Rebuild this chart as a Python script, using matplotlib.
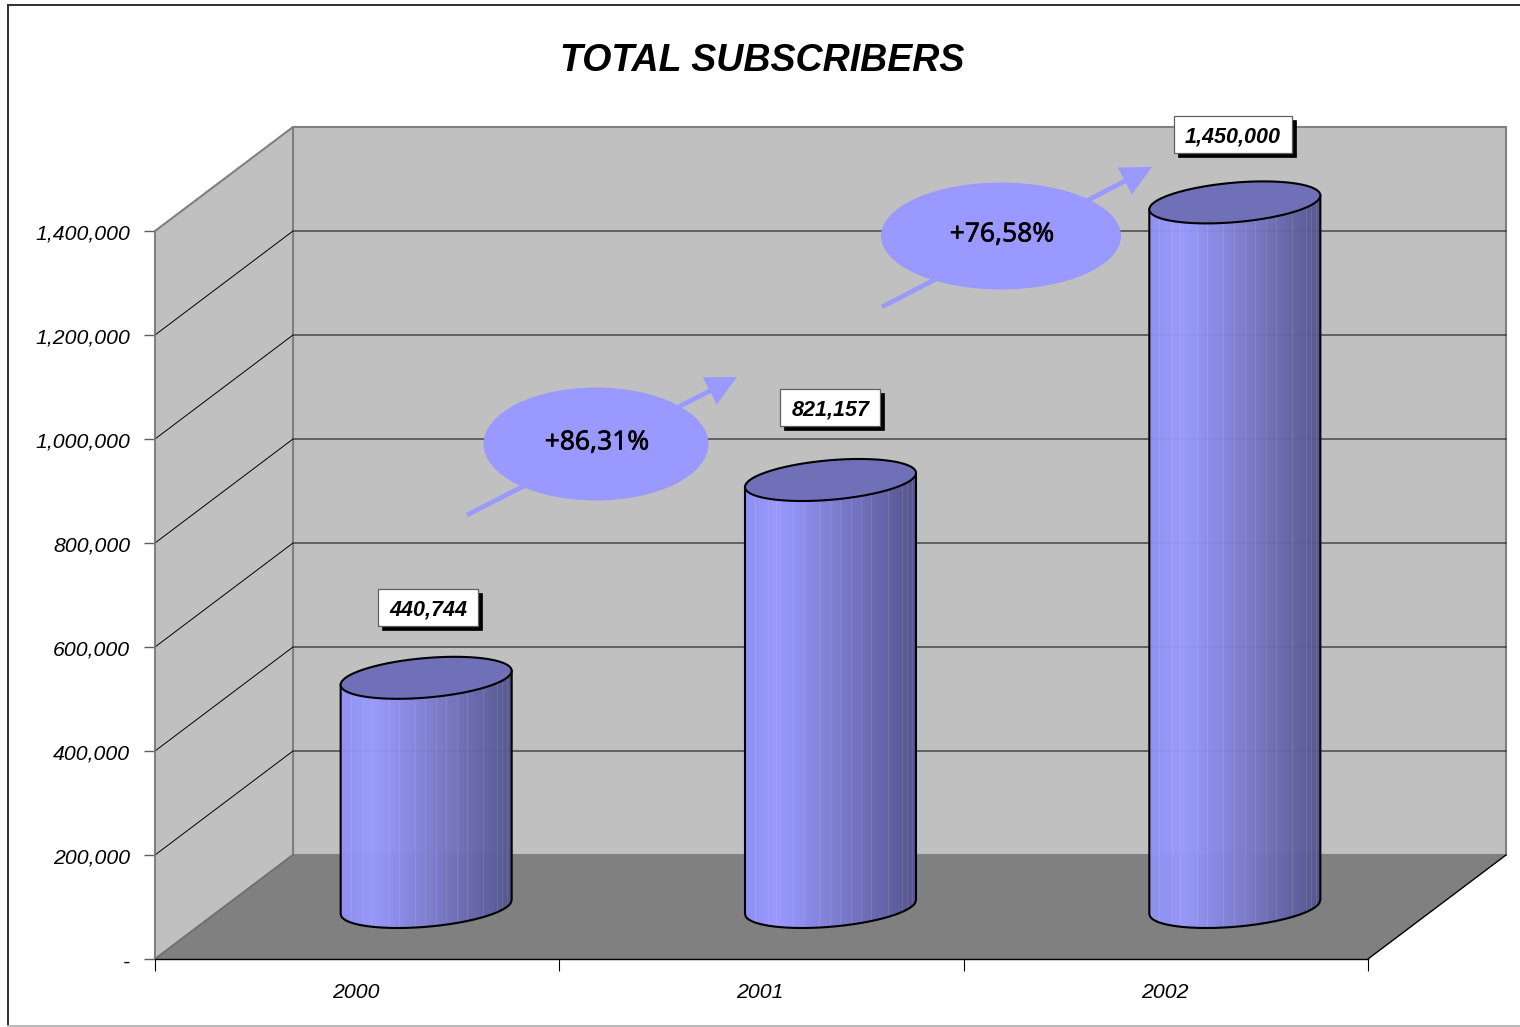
import numpy as np
import matplotlib
matplotlib.use("Agg")
import matplotlib.pyplot as plt
import matplotlib.patheffects as pe
from matplotlib.patches import Polygon, Ellipse, Rectangle, FancyArrowPatch
from matplotlib.lines import Line2D
from matplotlib.ticker import FuncFormatter, NullFormatter
from matplotlib.transforms import ScaledTranslation

years = ["2000", "2001", "2002"]
bar_values = [440744, 821157, 1355000]
bar_labels = ["440,744", "821,157", "1,450,000"]
growth_labels = ["+86,31%", "+76,58%"]
y_ticks = [0, 200000, 400000, 600000, 800000, 1000000, 1200000, 1400000]

W, H = 1520, 1027
X0, Y0 = 155.0, 959.0          # pixel position of the origin
SX = 404.33                    # pixels per category
SY = 728.0 / 1400000           # pixels per subscriber
DX = 138 / SX                  # depth offset of the back wall
DY = 104 / SY

def px(x):
    return (x - X0) / SX
def py(y):
    return (Y0 - y) / SY
def dpx(d):
    return d / SX
def dpy(d):
    return d / SY

plt.rcParams["font.family"] = ["Liberation Sans", "DejaVu Sans"]
fig = plt.figure(figsize=(W / 100, H / 100), dpi=100, facecolor="white")
ax = fig.add_axes([0, 0, 1, 1], facecolor="none")
ax.set_xlim(px(0), px(W))
ax.set_ylim(py(H), py(0))

WALL, FLOOR, EDGE = "#C0C0C0", "#808080", "#808080"
top = y_ticks[-1]
n = len(years)

# walls and floor
ax.add_patch(Polygon([(DX, DY), (n + DX, DY), (n + DX, top + DY), (DX, top + DY)],
                     fc=WALL, ec=EDGE, lw=1.5, zorder=1))
ax.add_patch(Polygon([(0, 0), (DX, DY), (DX, top + DY), (0, top)],
                     fc=WALL, ec=EDGE, lw=1.5, zorder=1))
ax.add_patch(Polygon([(0, 0), (n, 0), (n + DX, DY), (DX, DY)],
                     fc=FLOOR, ec="none", zorder=1.2))
ax.plot([n, n + DX], [0, DY], color="black", lw=1.0, zorder=1.3)
ax.plot([0, DX], [0, DY], color="#707070", lw=1.2, zorder=1.3)

# gridlines
for v in y_ticks[1:-1]:
    ax.plot([0, DX, n + DX], [v, v + DY, v + DY], color="black", lw=0.7, zorder=1.1)

# cylinders
A = 85.5 / SX
RISE = dpy(7.0)
B = dpy(19.8)
seams = [.058, .132, .179, .28, .34, .433, .495, .557, .617, .68, .738, .835, .917, .946, .975]
c_left, c_peak, c_right = np.array([0x90, 0x90, 0xF2]), np.array([0x99, 0x99, 0xFF]), np.array([0x55, 0x55, 0x8E])

def shade(f):
    if f < 0.2:
        return (c_left + (c_peak - c_left) * f / 0.2) / 255
    return (c_peak + (c_right - c_peak) * (f - 0.2) / 0.8) / 255

def front(cx, cy, f):
    u = 2 * np.asarray(f) - 1
    return cx + A * u, cy + RISE * u - B * np.sqrt(np.clip(1 - u ** 2, 0, 1))

label_dx = [2, 0, -2]
label_dy = [70, 72, 68]
for i, v in enumerate(bar_values):
    cx = i + 0.5 + DX / 2
    cy = DY / 2
    fs = np.linspace(0, 1, 172)
    for a, b in zip(fs[:-1], fs[1:]):
        ff = np.array([a, b])
        xb, yb = front(cx, cy, ff)
        xt, yt = front(cx, cy + v, ff)
        ax.add_patch(Polygon([(xb[0], yb[0]), (xb[1], yb[1]), (xt[1], yt[1]), (xt[0], yt[0])],
                             fc=shade((a + b) / 2), ec=shade((a + b) / 2), lw=0.4, zorder=3))
    for s in seams:
        xb, yb = front(cx, cy, s)
        xt, yt = front(cx, cy + v, s)
        ax.plot([xb, xt], [yb, yt], color="white", alpha=0.10, lw=0.7, zorder=3.1)
    # outline of the body
    fs = np.linspace(0, 1, 200)
    xb, yb = front(cx, cy, fs)
    ax.plot(np.r_[cx - A, xb, cx + A], np.r_[cy + v - RISE, yb, cy + v + RISE],
            color="black", lw=1.5, zorder=3.2, solid_joinstyle="round")
    # top cap
    t = np.linspace(0, 2 * np.pi, 240)
    xc = cx + A * np.cos(t)
    yc = cy + v + RISE * np.cos(t) + B * np.sin(t)
    ax.add_patch(Polygon(np.c_[xc, yc], closed=True, fc="#7070B8", ec="black", lw=1.5, zorder=3.3))
    # value label
    w = {7: 100, 9: 118}[len(bar_labels[i])]
    h = 37
    lx = cx + dpx(label_dx[i])
    ly = cy + v + dpy(label_dy[i])
    ax.add_patch(Rectangle((lx - dpx(w / 2) + dpx(4), ly - dpy(h / 2) - dpy(4)), dpx(w), dpy(h),
                           fc="black", ec="black", lw=0.5, zorder=4))
    ax.add_patch(Rectangle((lx - dpx(w / 2), ly - dpy(h / 2)), dpx(w), dpy(h),
                           fc="white", ec="#606060", lw=0.9, zorder=4.1))
    ax.text(lx, ly, bar_labels[i], ha="center", va="center_baseline", fontsize=15.5,
            fontweight="bold", fontstyle="italic", color="black", zorder=4.2)

# growth arrows and ellipses
BLUE = "#9999FF"
arrows = [((467, 515), (737, 377)), ((882, 307), (1152, 167))]
ells = [(596, 444, 225, 113), (1001, 236, 240, 107)]
for (p0, p1), (ex, ey, ew, eh), txt in zip(arrows, ells, growth_labels):
    ax.add_patch(FancyArrowPatch((px(p0[0]), py(p0[1])), (px(p1[0]), py(p1[1])),
                                 arrowstyle="-|>,head_length=1.1,head_width=0.55", mutation_scale=15,
                                 shrinkA=0, shrinkB=0, color=BLUE, lw=3.4, zorder=2.5,
                                 capstyle="butt", joinstyle="miter"))
    ax.add_patch(Ellipse((px(ex), py(ey)), dpx(ew), dpy(eh), fc=BLUE, ec="none", zorder=2.6))
    ax.text(px(ex + 1), py(ey - 5), txt, ha="center", va="center_baseline", fontsize=19,
            family=["Noto Sans", "DejaVu Sans"], color="black", zorder=2.7,
            path_effects=[pe.withStroke(linewidth=0.4, foreground="black")])

# axes, through the library's own ticks
for s in ("top", "right"):
    ax.spines[s].set_visible(False)
ax.spines["left"].set_position(("data", 0))
ax.spines["left"].set_bounds(0, top)
ax.spines["left"].set_color(EDGE)
ax.spines["left"].set_linewidth(1.2)
ax.spines["bottom"].set_position(("data", 0))
ax.spines["bottom"].set_bounds(0, n)
ax.spines["bottom"].set_color("black")
ax.spines["bottom"].set_linewidth(1.0)
ax.set_yticks(y_ticks)
ax.yaxis.set_major_formatter(FuncFormatter(lambda v, _: f"{int(v):,}" if v else "-"))
ax.tick_params(axis="y", length=7.9, width=1.0, color="#606060", pad=9.9,
               labelsize=15.3)
ax.set_xticks(range(n + 1))
ax.xaxis.set_major_formatter(NullFormatter())
ax.set_xticks([i + 0.497 for i in range(n)], labels=years, minor=True)
ax.tick_params(axis="x", which="major", length=8.6, width=0.8, color="black")
ax.tick_params(axis="x", which="minor", length=0, pad=17.6, labelsize=15.3)
down = ScaledTranslation(0, -1 / 100, fig.dpi_scale_trans)
for t in ax.get_yticklabels():
    t.set_fontstyle("italic")
    t.set_transform(t.get_transform() + down)
for t in ax.get_xticklabels(minor=True):
    t.set_fontstyle("italic")

ax.text(px(762), py(61), "TOTAL SUBSCRIBERS", ha="center", va="center", fontsize=27,
        fontweight="bold", fontstyle="italic", color="black")

# chart frame
tf = fig.transFigure
def fline(x0, y0, x1, y1, color, lw):
    fig.add_artist(Line2D([x0 / W, x1 / W], [1 - y0 / H, 1 - y1 / H], color=color, lw=lw, transform=tf))
fline(8, 5, W, 5, "#303030", 1.4)
fline(8, 5, 8, 1026, "#303030", 1.4)
fline(8, 1026, W, 1026, "#B8B8B8", 1.4)

fig.savefig("out.png", dpi=100)
